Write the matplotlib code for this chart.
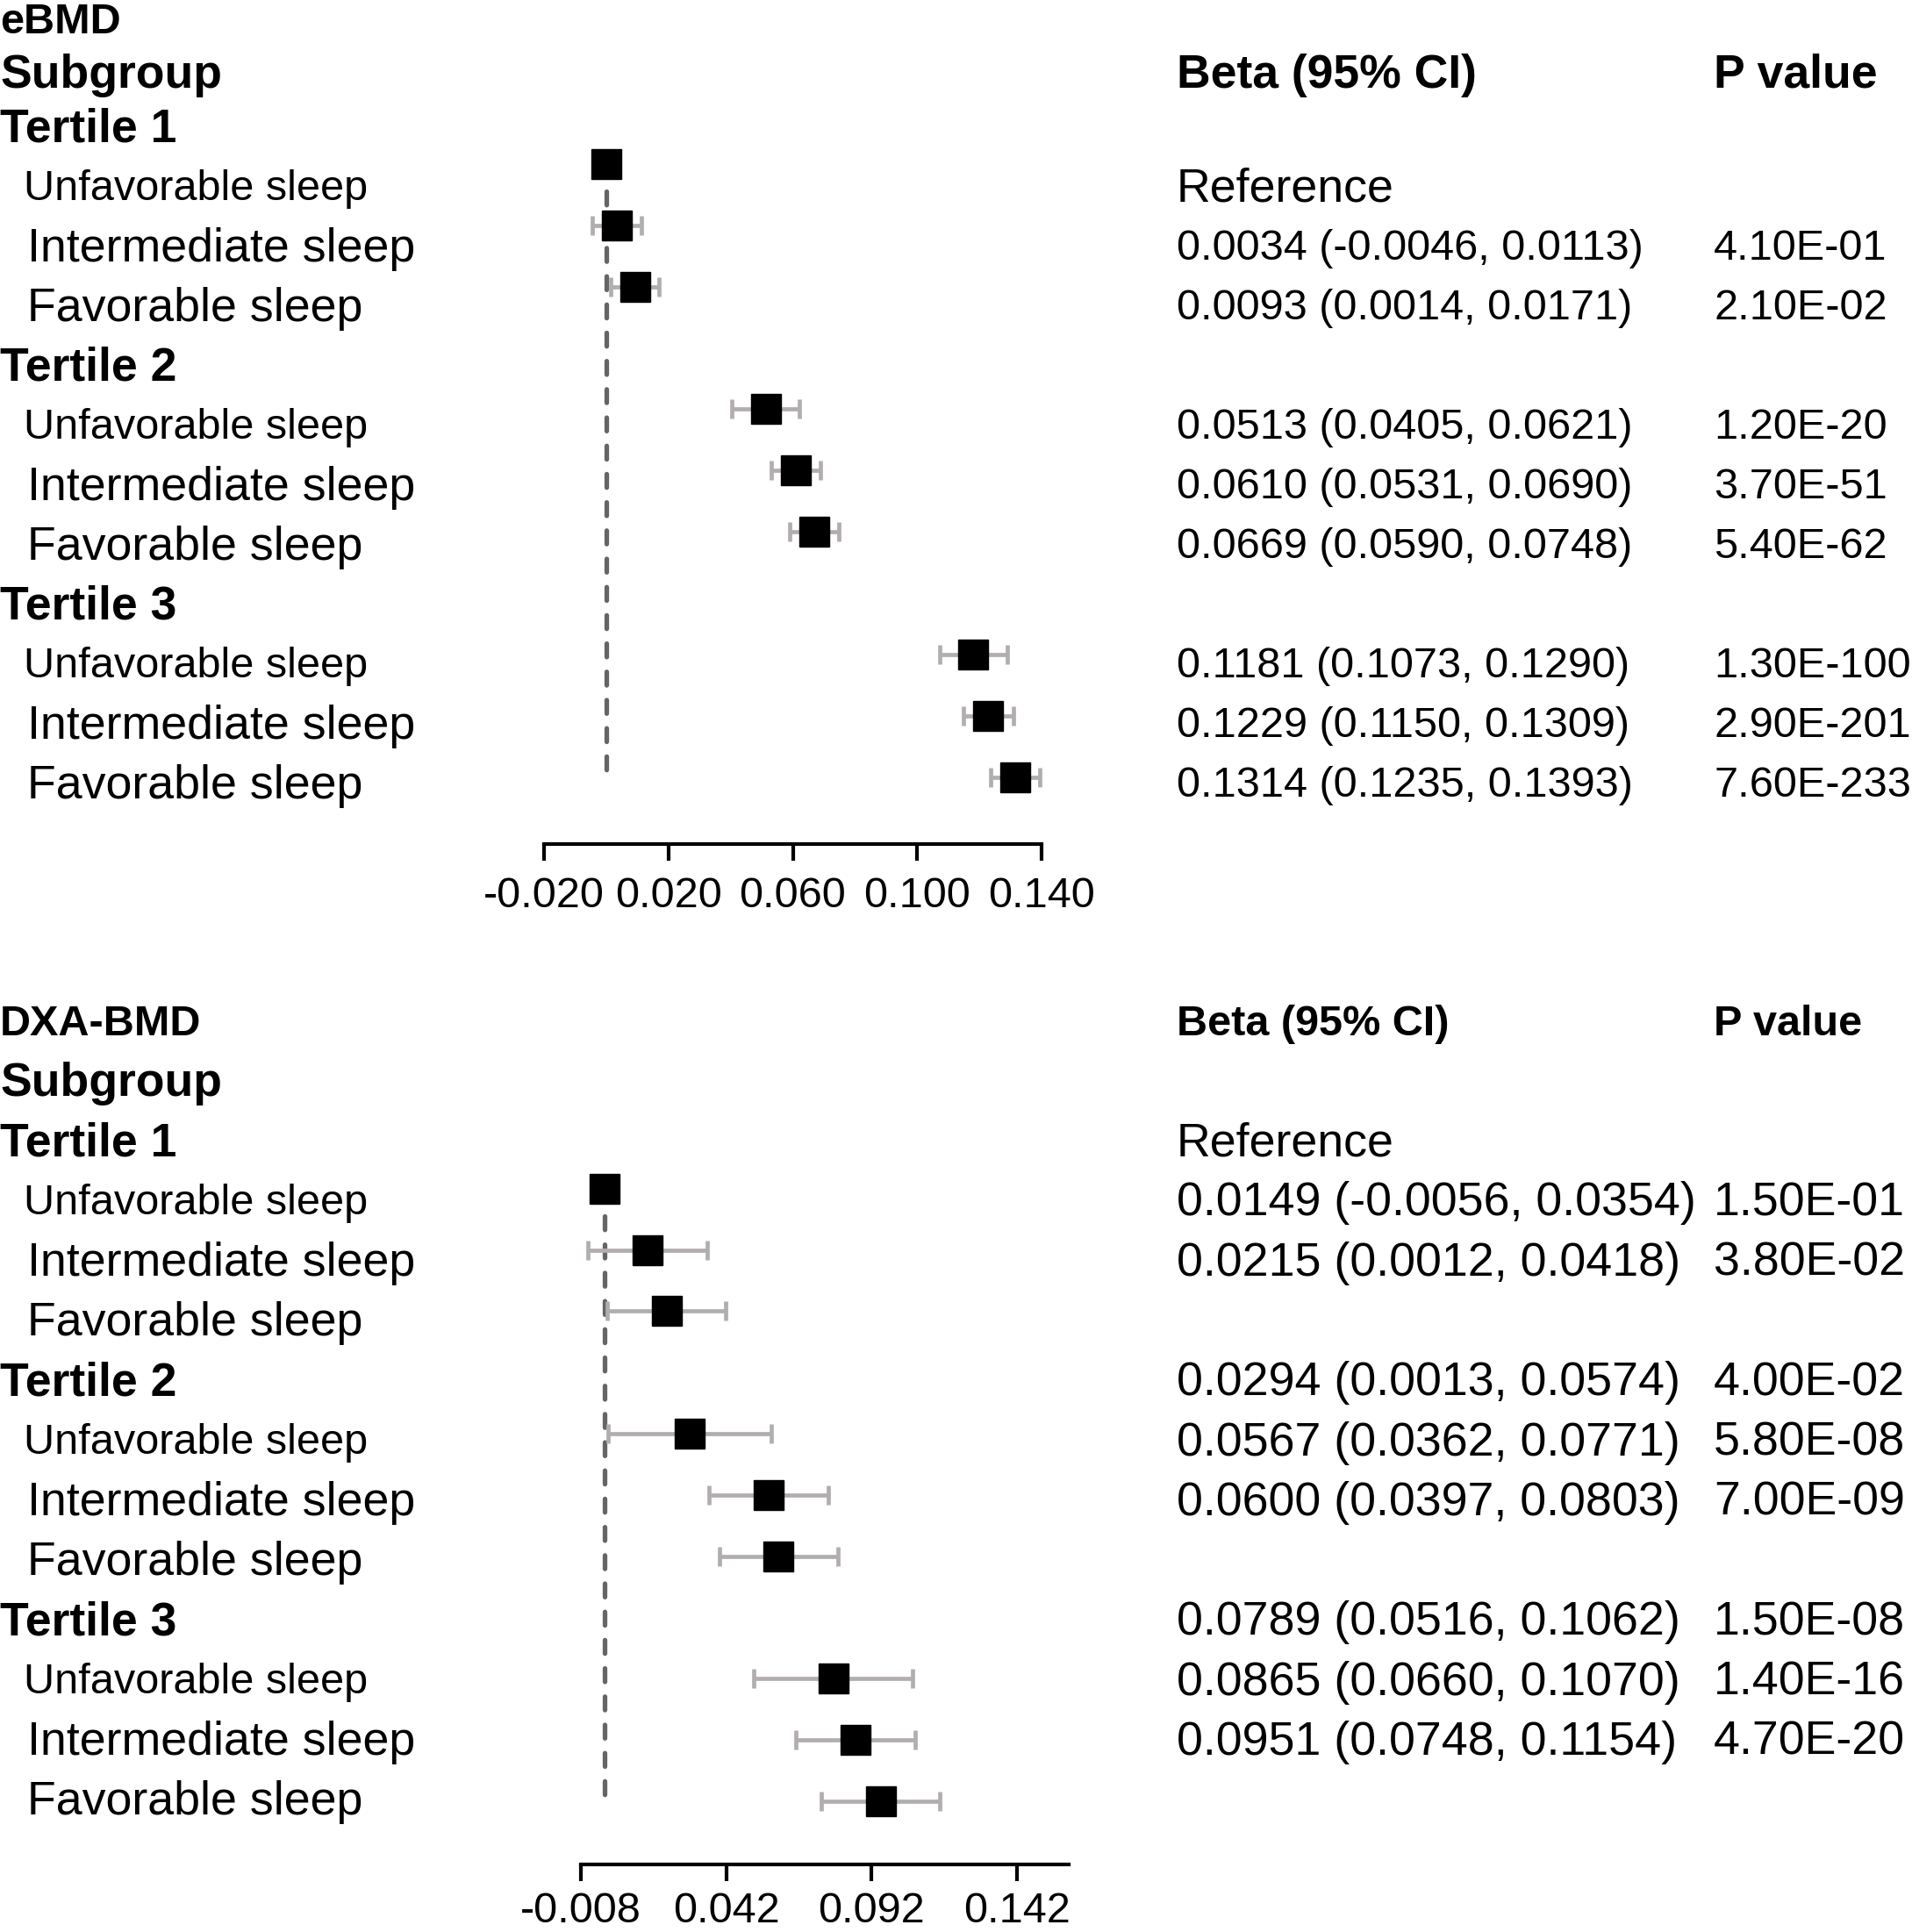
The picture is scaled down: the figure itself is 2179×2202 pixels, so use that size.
import matplotlib
matplotlib.use("Agg")
import matplotlib.pyplot as plt
import numpy as np

plt.rcParams['font.family'] = ['Liberation Sans', 'DejaVu Sans']

# ---- data ----
tertiles = ["Tertile 1", "Tertile 2", "Tertile 3"]
sleep_groups = ["Unfavorable sleep", "Intermediate sleep", "Favorable sleep"]

ebmd_beta = [0.0, 0.0034, 0.0093, 0.0513, 0.0610, 0.0669, 0.1181, 0.1229, 0.1314]
ebmd_lo = [np.nan, -0.0046, 0.0014, 0.0405, 0.0531, 0.0590, 0.1073, 0.1150, 0.1235]
ebmd_hi = [np.nan, 0.0113, 0.0171, 0.0621, 0.0690, 0.0748, 0.1290, 0.1309, 0.1393]
ebmd_p = ["", "4.10E-01", "2.10E-02", "1.20E-20", "3.70E-51", "5.40E-62",
          "1.30E-100", "2.90E-201", "7.60E-233"]

dxa_beta = [0.0, 0.0149, 0.0215, 0.0294, 0.0567, 0.0600, 0.0789, 0.0865, 0.0951]
dxa_lo = [np.nan, -0.0056, 0.0012, 0.0013, 0.0362, 0.0397, 0.0516, 0.0660, 0.0748]
dxa_hi = [np.nan, 0.0354, 0.0418, 0.0574, 0.0771, 0.0803, 0.1062, 0.1070, 0.1154]
dxa_p = ["", "1.50E-01", "3.80E-02", "4.00E-02", "5.80E-08", "7.00E-09",
         "1.50E-08", "1.40E-16", "4.70E-20"]

ebmd_ticks = [-0.020, 0.020, 0.060, 0.100, 0.140]
dxa_ticks = [-0.008, 0.042, 0.092, 0.142]

W, H = 2179, 2202
fig = plt.figure(figsize=(W / 100, H / 100), dpi=100)


def fx(px):
    return px / W


def fy(py):
    return 1 - py / H


def ci_text(b, lo, hi):
    if np.isnan(lo):
        return "Reference"
    return "%.4f (%.4f, %.4f)" % (b, lo, hi)


SMALL = 35
LARGE = 38.7
HEAD = 38.5
label_size = {"Unfavorable sleep": SMALL, "Intermediate sleep": LARGE,
              "Favorable sleep": LARGE}
COL_CI = 1341
COL_P = 1953

# marker rows: tertile header rows 0, 4, 8 are empty
rows = [t * 4 + j + 1 for t in range(3) for j in range(3)]


def panel(ax_box, xlim, ticks, beta, lo, hi, row0_px, step_px, axis_px, pad):
    left, right = ax_box
    ax = fig.add_axes([fx(left), fy(axis_px), fx(right) - fx(left),
                       (axis_px - row0_px) / H])
    ax.set_xlim(*xlim)
    ax.set_ylim((axis_px - row0_px) / step_px, 0)
    b = np.array(beta)
    err = np.array([b - np.array(lo), np.array(hi) - b])
    ax.errorbar(b, rows, xerr=err, fmt='none', ecolor='#b2aeaf', elinewidth=3.4,
                capsize=7.8, capthick=3.4, clip_on=False, zorder=2)
    ax.plot(b, rows, 's', color='black', markersize=25, clip_on=False, zorder=3)
    ax.plot([0, 0], [1.45, 11.1], color='#656565', lw=3.8,
            linestyle=(0, (2.9, 3.2)), dash_capstyle='round', zorder=1, clip_on=False)
    for s in ['top', 'right', 'left']:
        ax.spines[s].set_visible(False)
    ax.spines['bottom'].set_linewidth(3.0)
    ax.set_yticks([])
    ax.set_xticks(ticks)
    ax.set_xticklabels(["%.3f" % t for t in ticks])
    ax.tick_params(axis='x', length=13.5, width=3.0, labelsize=SMALL, pad=pad)
    return ax


def labels(title, title_y, sub_y, row0_y, step, head_size):
    fig.text(fx(0), fy(title_y), title, fontsize=head_size, fontweight='bold', va='center')
    fig.text(fx(0), fy(sub_y), "Subgroup", fontsize=HEAD, fontweight='bold', va='center')
    for t, name in enumerate(tertiles):
        fig.text(fx(0), fy(row0_y + t * 4 * step), name, fontsize=HEAD,
                 fontweight='bold', va='center')
        for j, g in enumerate(sleep_groups):
            x0 = 27 if g.startswith("Unf") else 31
            fig.text(fx(x0), fy(row0_y + (t * 4 + j + 1) * step), g,
                     fontsize=label_size[g], va='center')


# ---- eBMD panel ----
panel((620, 1187), (-0.020, 0.140), ebmd_ticks, ebmd_beta, ebmd_lo, ebmd_hi,
      117, 69.9, 962, 13)
labels("eBMD", 26, 86, 148, 68.0, SMALL)
fig.text(fx(COL_CI), fy(86), "Beta (95% CI)", fontsize=HEAD, fontweight='bold', va='center')
fig.text(fx(COL_P), fy(86), "P value", fontsize=HEAD, fontweight='bold', va='center')
for k, r in enumerate(rows):
    y = fy(148 + r * 68.0)
    txt = ci_text(ebmd_beta[k], ebmd_lo[k], ebmd_hi[k])
    fig.text(fx(COL_CI), y, txt, fontsize=LARGE if k == 0 else SMALL, va='center')
    if ebmd_p[k]:
        fig.text(fx(COL_P), y, ebmd_p[k], fontsize=SMALL, va='center')

# ---- DXA-BMD panel ----
panel((662, 1218), (-0.008, 0.1598), dxa_ticks, dxa_beta, dxa_lo, dxa_hi,
      1285, 69.8, 2125, 9)
labels("DXA-BMD", 1167, 1235, 1303, 68.3, SMALL)
fig.text(fx(COL_CI), fy(1167), "Beta (95% CI)", fontsize=SMALL, fontweight='bold', va='center')
fig.text(fx(COL_P), fy(1167), "P value", fontsize=SMALL, fontweight='bold', va='center')
# the printed column sits one row higher than the markers in the source figure
text_rows = [0, 1, 2, 4, 5, 6, 8, 9, 10]
for k, r in enumerate(text_rows):
    y = fy(1303 + r * 68.3)
    fig.text(fx(COL_CI), y, ci_text(dxa_beta[k], dxa_lo[k], dxa_hi[k]),
             fontsize=LARGE, va='center')
    if dxa_p[k]:
        fig.text(fx(COL_P), y, dxa_p[k], fontsize=LARGE, va='center')

fig.savefig("out.png", dpi=100)
